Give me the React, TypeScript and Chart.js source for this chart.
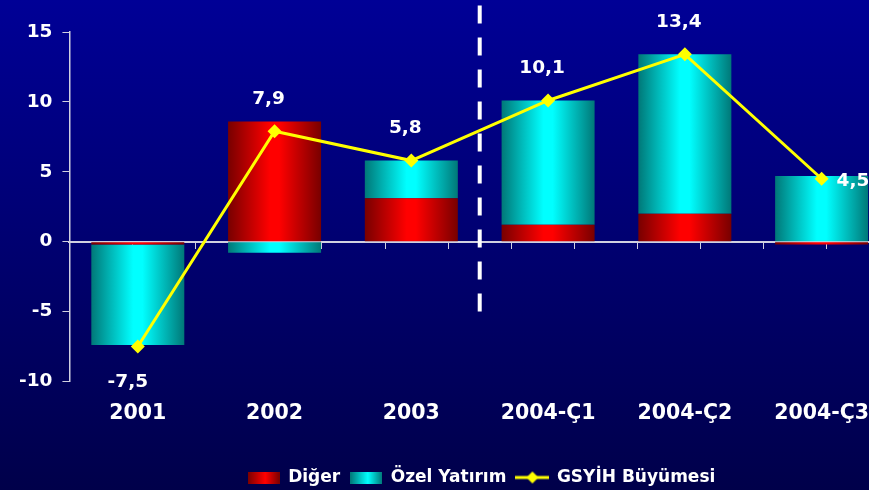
import React, { useEffect, useRef } from 'react';
import { Chart, registerables } from 'chart.js';

Chart.register(...registerables);

// ---- data ----
const categories = ['2001', '2002', '2003', '2004-Ç1', '2004-Ç2', '2004-Ç3'];
const digerValues = [-0.2, 8.6, 3.1, 1.2, 2.0, -0.2];
const ozelYatirimValues = [-7.2, -0.8, 2.7, 8.9, 11.4, 4.7];
const gsyihValues = [-7.5, 7.9, 5.8, 10.1, 13.4, 4.5];
const seriesNames = ['Diğer', 'Özel Yatırım', 'GSYİH Büyümesi'];
const yMin = -10;
const yMax = 15;
const yStep = 5;
// vertical separator between 2003 and 2004-Ç1 (category index units, value units)
const separatorX = 2.5;
const separatorYRange = [16.9, -5.0];
const labelPlacement = ['below', 'above', 'above', 'above', 'above', 'right'];

// ---- style ----
const FONT = '"DejaVu Sans", "Liberation Sans", sans-serif';
const BAR_FRACTION = 0.68;
const RED_DARK = '#780000';
const RED_BRIGHT = '#ff0000';
const CYAN_DARK = '#007878';
const CYAN_BRIGHT = '#00ffff';
const YELLOW = '#ffff00';
const AXIS_COLOR = '#d0d0e0';

function makeBarFill(dark: string, bright: string) {
  return (ctx: any) => {
    const chart = ctx.chart;
    const xs = chart.scales ? chart.scales.x : null;
    if (ctx.type !== 'data' || !xs || !chart.chartArea) return bright;
    const center = xs.getPixelForValue(ctx.dataIndex);
    const step = Math.abs(xs.getPixelForValue(1) - xs.getPixelForValue(0));
    const half = (step * BAR_FRACTION) / 2;
    const g = chart.ctx.createLinearGradient(center - half, 0, center + half, 0);
    g.addColorStop(0, dark);
    g.addColorStop(0.45, bright);
    g.addColorStop(0.55, bright);
    g.addColorStop(1, dark);
    return g;
  };
}

function makeBoxImage(dark: string, bright: string) {
  const c = document.createElement('canvas');
  c.width = 32;
  c.height = 12;
  const g = c.getContext('2d')!;
  const gr = g.createLinearGradient(0, 0, 32, 0);
  gr.addColorStop(0, dark);
  gr.addColorStop(0.55, bright);
  gr.addColorStop(1, dark);
  g.fillStyle = gr;
  g.fillRect(0, 0, 32, 12);
  return c;
}

function makeLineImage() {
  const c = document.createElement('canvas');
  c.width = 34;
  c.height = 14;
  const g = c.getContext('2d')!;
  g.strokeStyle = YELLOW;
  g.lineWidth = 3;
  g.beginPath();
  g.moveTo(0, 7);
  g.lineTo(34, 7);
  g.stroke();
  g.fillStyle = YELLOW;
  g.beginPath();
  g.moveTo(17, 1);
  g.lineTo(23, 7);
  g.lineTo(17, 13);
  g.lineTo(11, 7);
  g.closePath();
  g.fill();
  return c;
}

const pointLabelPlugin = {
  id: 'pointLabels',
  afterDatasetsDraw(chart: any) {
    const meta = chart.getDatasetMeta(2);
    const ctx = chart.ctx;
    ctx.save();
    ctx.font = `bold 18.5px ${FONT}`;
    ctx.fillStyle = '#ffffff';
    meta.data.forEach((pt: any, i: number) => {
      const txt = gsyihValues[i].toFixed(1).replace('.', ',');
      const place = labelPlacement[i];
      if (place === 'right') {
        ctx.textAlign = 'left';
        ctx.textBaseline = 'middle';
        ctx.fillText(txt, pt.x + 15, pt.y + 2);
      } else if (place === 'below') {
        ctx.textAlign = 'center';
        ctx.textBaseline = 'middle';
        ctx.fillText(txt, pt.x - 10, pt.y + 36);
      } else {
        ctx.textAlign = 'center';
        ctx.textBaseline = 'middle';
        ctx.fillText(txt, pt.x - 6, pt.y - 32);
      }
    });
    ctx.restore();
  },
};

const legendShiftPlugin = {
  id: 'legendShift',
  afterLayout(chart: any) {
    if (chart.legend) {
      chart.legend.left += 32;
      chart.legend.right += 32;
    }
  },
};

export default function App() {
  const ref = useRef<HTMLCanvasElement | null>(null);

  useEffect(() => {
    if (!ref.current) return;
    const redImg = makeBoxImage(RED_DARK, RED_BRIGHT);
    const cyanImg = makeBoxImage(CYAN_DARK, CYAN_BRIGHT);
    const lineImg = makeLineImage();

    const chart = new Chart(ref.current, {
      type: 'bar',
      data: {
        labels: categories,
        datasets: [
          {
            type: 'bar',
            label: seriesNames[0],
            data: digerValues,
            backgroundColor: makeBarFill(RED_DARK, RED_BRIGHT),
            borderWidth: 0,
            barPercentage: BAR_FRACTION,
            categoryPercentage: 1,
            grouped: false,
            order: 2,
            stack: 'bars',
            xAxisID: 'x',
            yAxisID: 'y',
          },
          {
            type: 'bar',
            label: seriesNames[1],
            data: ozelYatirimValues,
            backgroundColor: makeBarFill(CYAN_DARK, CYAN_BRIGHT),
            borderWidth: 0,
            barPercentage: BAR_FRACTION,
            categoryPercentage: 1,
            grouped: false,
            order: 2,
            stack: 'bars',
            xAxisID: 'x',
            yAxisID: 'y',
          },
          {
            type: 'line',
            label: seriesNames[2],
            data: gsyihValues,
            borderColor: YELLOW,
            backgroundColor: YELLOW,
            borderWidth: 3,
            pointStyle: 'rectRot',
            pointRadius: 7,
            pointBackgroundColor: YELLOW,
            pointBorderWidth: 0,
            tension: 0,
            order: 1,
            stack: 'gdp',
            xAxisID: 'x',
            yAxisID: 'y',
          } as any,
          {
            type: 'line',
            label: 'separator',
            data: [
              { x: separatorX, y: separatorYRange[0] },
              { x: separatorX, y: separatorYRange[1] },
            ],
            borderColor: '#ffffff',
            borderWidth: 4,
            borderDash: [18, 14],
            pointRadius: 0,
            clip: false,
            order: 0,
            stack: 'sep',
            xAxisID: 'x2',
            yAxisID: 'y',
          } as any,
        ],
      },
      options: {
        animation: false,
        responsive: false,
        devicePixelRatio: 1,
        layout: { padding: { left: 9, right: 10, top: 32, bottom: 0 } },
        plugins: {
          tooltip: { enabled: false },
          legend: {
            position: 'bottom',
            labels: {
              usePointStyle: true,
              pointStyleWidth: 32,
              boxHeight: 12,
              padding: 10,
              color: '#ffffff',
              font: { family: FONT, size: 17, weight: 'bold' },
              generateLabels: () => [
                { text: seriesNames[0], pointStyle: redImg, fillStyle: RED_BRIGHT, strokeStyle: 'transparent', lineWidth: 0, hidden: false, datasetIndex: 0, fontColor: '#ffffff' },
                { text: seriesNames[1], pointStyle: cyanImg, fillStyle: CYAN_BRIGHT, strokeStyle: 'transparent', lineWidth: 0, hidden: false, datasetIndex: 1, fontColor: '#ffffff' },
                { text: seriesNames[2], pointStyle: lineImg, fillStyle: YELLOW, strokeStyle: 'transparent', lineWidth: 0, hidden: false, datasetIndex: 2, fontColor: '#ffffff' },
              ] as any,
            },
          },
        },
        scales: {
          x: {
            type: 'category',
            stacked: true,
            offset: true,
            grid: { display: false, drawTicks: false },
            border: { display: false },
            ticks: {
              color: '#ffffff',
              padding: 20,
              font: { family: FONT, size: 20.5, weight: 'bold' },
              maxRotation: 0,
              autoSkip: false,
            },
            title: { display: true, text: '', font: { size: 10 }, padding: { top: 0, bottom: 1 } },
          },
          x2: {
            type: 'linear',
            position: { y: 0 } as any,
            min: -0.5,
            max: 5.5,
            z: 1,
            grid: { drawOnChartArea: false, drawTicks: true, tickLength: 6, color: AXIS_COLOR, lineWidth: 1 },
            border: { display: true, color: AXIS_COLOR, width: 2 },
            ticks: { display: false, stepSize: 0.5, maxTicksLimit: 20 },
          },
          y: {
            type: 'linear',
            stacked: true,
            min: yMin,
            max: yMax,
            grid: { drawOnChartArea: false, drawTicks: true, tickLength: 7, color: AXIS_COLOR, lineWidth: 1 },
            border: { display: true, color: AXIS_COLOR, width: 1.5 },
            ticks: {
              stepSize: yStep,
              color: '#ffffff',
              padding: 10,
              font: { family: FONT, size: 18.5, weight: 'bold' },
              callback: (v: any) => String(v),
            },
          },
        },
      } as any,
      plugins: [pointLabelPlugin, legendShiftPlugin],
    });
    return () => chart.destroy();
  }, []);

  return (
    <div
      style={{
        position: 'fixed',
        left: 0,
        top: 0,
        width: 869,
        height: 490,
        overflow: 'hidden',
        background: 'linear-gradient(to bottom, #000096, #00004a)',
      }}
    >
      <canvas ref={ref} width={900} height={496} style={{ display: 'block' }} />
    </div>
  );
}
